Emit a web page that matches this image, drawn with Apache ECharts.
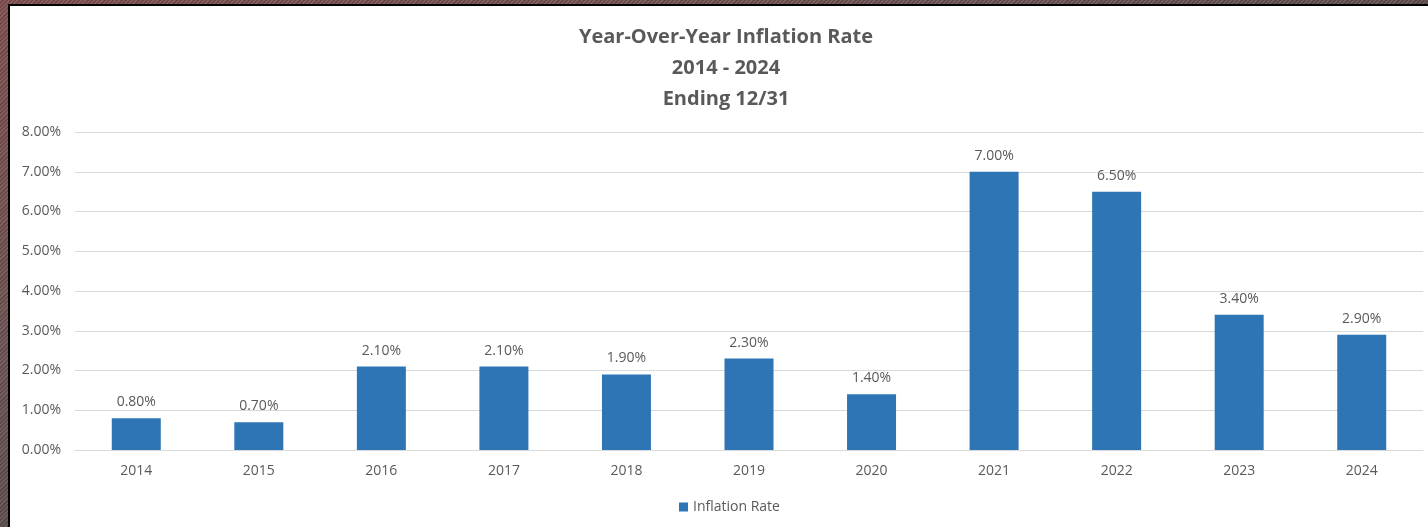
<!DOCTYPE html>
<html>
<head>
<meta charset="utf-8">
<script src="https://cdn.jsdelivr.net/npm/echarts@6/dist/echarts.min.js"></script>
<style>
html,body{margin:0;padding:0;width:1428px;height:527px;overflow:hidden;}
body{
  background:
    repeating-linear-gradient(135deg, rgba(255,255,255,0.10) 0px, rgba(255,255,255,0.10) 1px, rgba(0,0,0,0.10) 2px, rgba(0,0,0,0.10) 3px),
    linear-gradient(160deg, #7d4c4c 0%, #6a5050 35%, #4a4545 70%, #303030 100%);
}
#frame{position:absolute;left:8px;top:4px;width:1420px;height:523px;background:#000;}
#white{position:absolute;left:10px;top:6px;width:1418px;height:521px;background:#fff;}
#chart{position:absolute;left:0;top:0;width:1428px;height:527px;}
</style>
</head>
<body>
<div id="frame"></div>
<div id="white"></div>
<div id="chart"></div>
<script>
const categories = ['2014','2015','2016','2017','2018','2019','2020','2021','2022','2023','2024'];
const inflationRate = [0.8, 0.7, 2.1, 2.1, 1.9, 2.3, 1.4, 7.0, 6.5, 3.4, 2.9];
const seriesName = 'Inflation Rate';
const titleLines = ['Year-Over-Year Inflation Rate', '2014 - 2024', 'Ending 12/31'];

const FONT = '"Open Sans", "Noto Sans", sans-serif';
const chart = echarts.init(document.getElementById('chart'), null, {renderer:'canvas'});
chart.setOption({
  backgroundColor: 'transparent',
  animation: false,
  title: {
    text: titleLines.join('\n'),
    left: 721,
    textAlign: 'center',
    top: 17,
    textStyle: {fontFamily: FONT, fontSize: 20, fontWeight: 'bold', color: '#595959', lineHeight: 31, align: 'center'}
  },
  legend: {
    bottom: 8,
    left: 674,
    itemWidth: 9,
    itemHeight: 9,
    itemGap: 10,
    icon: 'rect',
    textStyle: {fontFamily: FONT, fontSize: 14, color: '#595959'},
    data: [seriesName]
  },
  grid: {left: 75, right: 5, top: 132, bottom: 77, containLabel: false},
  xAxis: {
    type: 'category',
    data: categories,
    axisLine: {show: true, lineStyle: {color: '#d9d9d9', width: 1}},
    axisTick: {show: false},
    axisLabel: {margin: 14, fontFamily: FONT, fontSize: 14, color: '#595959'}
  },
  yAxis: {
    type: 'value',
    min: 0,
    max: 8,
    interval: 1,
    axisLine: {show: false},
    axisTick: {show: false},
    splitLine: {lineStyle: {color: '#d9d9d9', width: 1}},
    axisLabel: {margin: 14, fontFamily: FONT, fontSize: 14, color: '#595959', formatter: v => v.toFixed(2) + '%'}
  },
  series: [{
    name: seriesName,
    type: 'bar',
    data: inflationRate,
    barWidth: 49,
    itemStyle: {color: '#2E75B6'},
    label: {
      show: true,
      position: 'top',
      distance: 9,
      fontFamily: FONT,
      fontSize: 14,
      color: '#595959',
      formatter: p => p.value.toFixed(2) + '%'
    }
  }]
});
</script>
</body>
</html>
